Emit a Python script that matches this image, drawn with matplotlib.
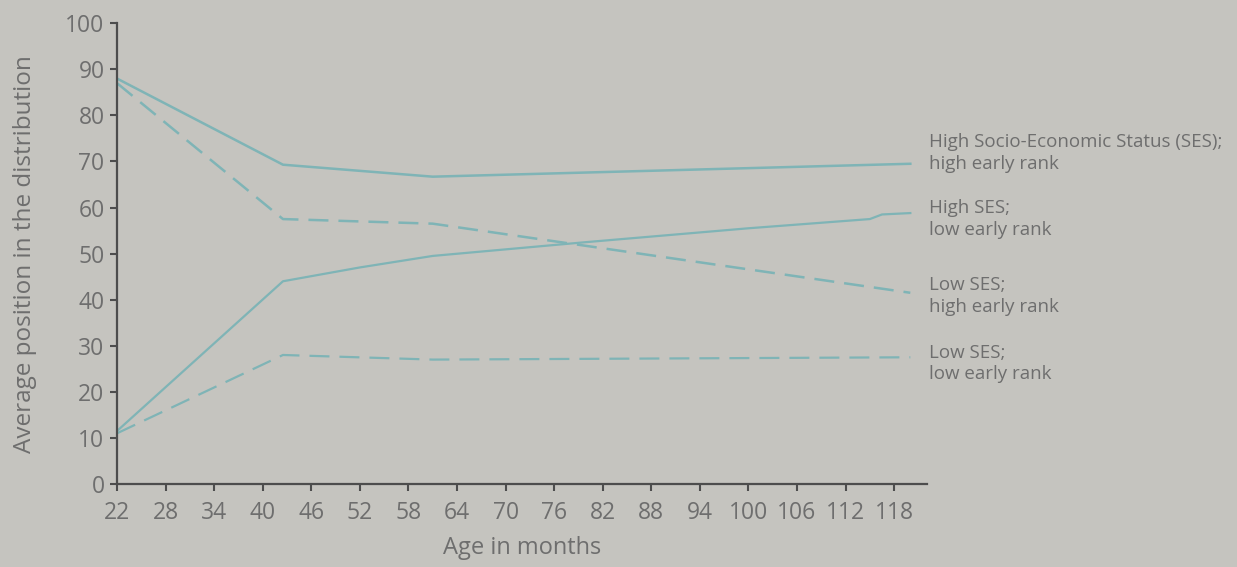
import matplotlib.pyplot as plt
import numpy as np

plt.rcParams['font.family'] = ['Open Sans', 'DejaVu Sans']

# Average rank over age, per group
hi_hi_age = [22, 42.5, 61, 120]
hi_hi_pos = [88, 69.3, 66.7, 69.5]

hi_lo_age = [22, 42.5, 52, 61, 80, 100, 115, 116.5, 120]
hi_lo_pos = [11.5, 44, 47, 49.5, 52.5, 55.5, 57.5, 58.5, 58.8]

lo_hi_age = [22, 42.5, 61, 120]
lo_hi_pos = [87, 57.5, 56.5, 41.5]

lo_lo_age = [22, 42.5, 61, 120]
lo_lo_pos = [11, 28, 27, 27.5]

labels = ["High Socio-Economic Status (SES);\nhigh early rank",
          "High SES;\nlow early rank",
          "Low SES;\nhigh early rank",
          "Low SES;\nlow early rank"]
label_y = [71.8, 57.5, 40.8, 26.2]

x_ticks = list(range(22, 119, 6))
y_ticks = list(range(0, 101, 10))

bg = '#c5c4bf'
line_col = '#7fb4b6'
text_col = '#6e6e6e'
axis_col = '#4d4d4d'

fig = plt.figure(figsize=(12.37, 5.67), dpi=100, facecolor=bg)
ax = fig.add_axes([0.0946, 0.1464, 0.6544, 0.8126])
ax.set_facecolor(bg)

ax.plot(hi_hi_age, hi_hi_pos, color=line_col, lw=1.8)
ax.plot(hi_lo_age, hi_lo_pos, color=line_col, lw=1.6)
ax.plot(lo_hi_age, lo_hi_pos, color=line_col, lw=1.8, dashes=(8, 4))
ax.plot(lo_lo_age, lo_lo_pos, color=line_col, lw=1.6, dashes=(9, 4.5))

for txt, yy in zip(labels, label_y):
    ax.text(122.3, yy, txt, fontsize=13.5, color=text_col, va='center', ha='left',
            linespacing=1.25, clip_on=False)

ax.set_xlim(22, 122)
ax.set_ylim(0, 100)
ax.set_xticks(x_ticks)
ax.set_yticks(y_ticks)

for s in ['top', 'right']:
    ax.spines[s].set_visible(False)
for s in ['left', 'bottom']:
    ax.spines[s].set_color(axis_col)
    ax.spines[s].set_linewidth(1.6)

ax.tick_params(axis='both', colors=axis_col, labelcolor=text_col, labelsize=16.5,
               width=1.5, length=5)
ax.tick_params(axis='x', pad=7)
ax.tick_params(axis='y', pad=4)

ax.set_xlabel("Age in months", fontsize=17, color=text_col, labelpad=8)
ax.set_ylabel("Average position in the distribution", fontsize=17.5, color=text_col, labelpad=20)

fig.savefig("out.png", dpi=100, facecolor=bg)
